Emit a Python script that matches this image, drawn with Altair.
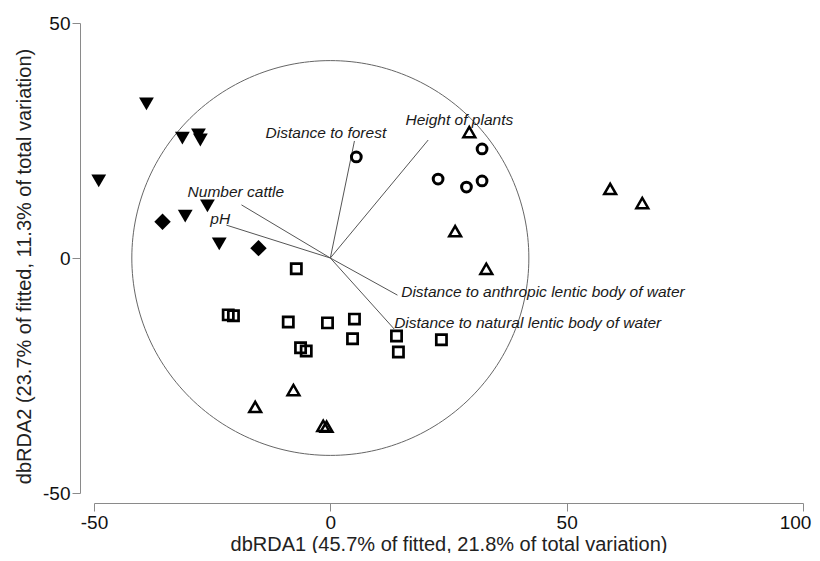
import altair as alt
import pandas as pd
import numpy as np

# ---- data ----
down_x = [-38.9, -31.3, -27.9, -27.5, -49.0, -26.0, -30.7, -23.5]
down_y = [32.8, 25.5, 26.2, 25.1, 16.4, 11.1, 8.9, 3.0]

diam_x = [-35.5, -15.2]
diam_y = [7.7, 2.1]

circ_x = [5.5, 32.1, 22.8, 28.8, 32.1]
circ_y = [21.5, 23.2, 16.8, 15.1, 16.4]

tri_x = [29.4, 26.4, 33.0, 59.2, 66.0, -7.8, -15.9, -1.5, -0.8]
tri_y = [26.8, 5.7, -2.3, 14.7, 11.7, -28.1, -31.7, -35.7, -35.9]

sq_x = [-7.2, -8.9, -0.6, 5.1, 4.7, -6.3, -5.1, 14.0, 14.4, 23.5, -21.6, -20.5]
sq_y = [-2.3, -13.6, -13.8, -13.0, -17.2, -19.1, -19.8, -16.6, -20.0, -17.4, -12.1, -12.3]

vec_names = ["Distance to forest", "Height of plants", "Number cattle", "pH",
             "Distance to anthropic lentic body of water",
             "Distance to natural lentic body of water"]
vec_x = [5.1, 20.7, -18.8, -22.0, 14.2, 13.5]
vec_y = [24.9, 25.1, 11.3, 7.0, -7.9, -15.1]
lab_x = [-13.7, 15.9, -30.2, -25.4, 15.0, 13.5]
lab_y = [26.6, 29.4, 14.0, 8.3, -7.2, -13.8]

circle_radius = 42.0

x_ticks = [-50, 0, 50, 100]
y_ticks = [-50, 0, 50]
x_title = "dbRDA1 (45.7% of fitted, 21.8% of total variation)"
y_title = "dbRDA2 (23.7% of fitted, 11.3% of total variation)"

FONT = "Liberation Sans"

xs = alt.Scale(domain=[-50, 100], nice=False, zero=False)
ys = alt.Scale(domain=[-50, 50], nice=False, zero=False)

axis_common = dict(grid=False, domainColor="#8a8a8a", tickColor="#8a8a8a",
                   tickSize=8, labelFont=FONT, labelFontSize=19, labelColor="#111",
                   labelFlush=False, labelExpr="'' + datum.value",
                   titleFont=FONT, titleFontSize=20, titleFontWeight="normal",
                   titleColor="#222", labelPadding=2)


def X(f):
    return alt.X(f, type="quantitative", scale=xs,
                 axis=alt.Axis(values=x_ticks, title=x_title, offset=10,
                               titlePadding=2,
                               labelOffset={"condition": {"test": "datum.value == 100",
                                                          "value": -8},
                                            "value": 0},
                               **axis_common))


def Y(f):
    return alt.Y(f, type="quantitative", scale=ys,
                 axis=alt.Axis(values=y_ticks, title=y_title, offset=14,
                               titlePadding=8, titleY=243, **axis_common))


# circle of equilibrium contribution
t = np.linspace(0, 2 * np.pi, 241)
circ_df = pd.DataFrame({"cx": circle_radius * np.cos(t),
                        "cy": circle_radius * np.sin(t),
                        "o": np.arange(len(t))})
circle = alt.Chart(circ_df).mark_line(color="#666", strokeWidth=1).encode(
    x=X("cx"), y=Y("cy"), order="o:Q")

vec_df = pd.DataFrame({"name": vec_names, "vx": vec_x, "vy": vec_y,
                       "lx": lab_x, "ly": lab_y,
                       "ox": [0.0] * len(vec_x), "oy": [0.0] * len(vec_y)})
vectors = alt.Chart(vec_df).mark_rule(color="#555", strokeWidth=1).encode(
    x=X("ox"), y=Y("oy"), x2="vx", y2="vy")
labels = alt.Chart(vec_df).mark_text(align="left", baseline="middle", font=FONT,
                                     fontStyle="italic", fontSize=15.5,
                                     color="#1a1a1a").encode(
    x=X("lx"), y=Y("ly"), text="name:N")


def pts(xv, yv, **mk):
    df = pd.DataFrame({"px": xv, "py": yv})
    return alt.Chart(df).mark_point(**mk).encode(x=X("px"), y=Y("py"))


downs = pts(down_x, down_y, shape="triangle-down", filled=True, color="black",
            size=220, opacity=1)
diams = pts(diam_x, diam_y, shape="diamond", filled=True, color="black",
            size=270, opacity=1)
circs = pts(circ_x, circ_y, shape="circle", filled=False, color="black",
            size=95, strokeWidth=3, opacity=1)
tris = pts(tri_x, tri_y, shape="triangle-up", filled=False, color="black",
           size=140, strokeWidth=2.5, opacity=1)
sqs = pts(sq_x, sq_y, shape="square", filled=False, color="black",
          size=105, strokeWidth=2.7, opacity=1)

chart = alt.layer(circle, vectors, labels, downs, diams, circs, tris, sqs).properties(
    width=709, height=470,
    autosize=alt.AutoSizeParams(type="none"),
    padding={"left": 86, "top": 15, "right": 9, "bottom": 60},
    background="white",
).configure_view(stroke=None)

chart.save("out.html", embed_options={"renderer": "svg", "actions": False})
